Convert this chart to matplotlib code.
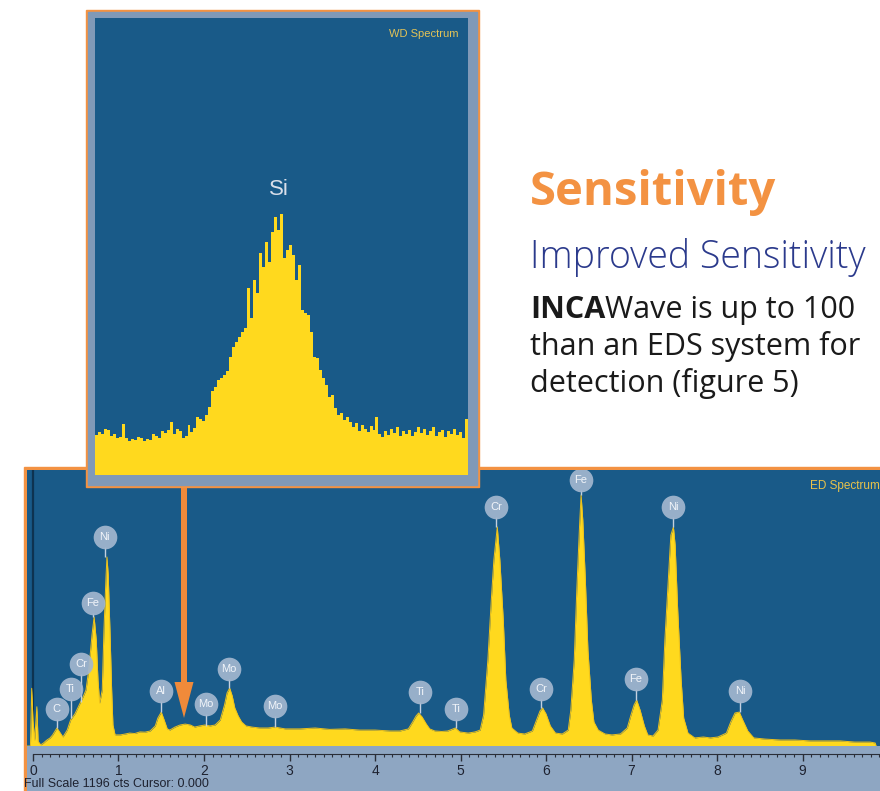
import numpy as np
import matplotlib.pyplot as plt
from matplotlib.patches import Rectangle, FancyArrow
from matplotlib.transforms import Affine2D
from matplotlib.ticker import MultipleLocator

# ---- data ----
# ED spectrum outline: energy (keV) and counts (full scale 1196 cts)
ed_kev = [-0.07, -0.03, -0.015, 0.0, 0.02, 0.045, 0.06, 0.09, 0.12, 0.16, 0.2, 0.23, 0.28, 0.32, 0.35,
          0.40, 0.44, 0.49, 0.54, 0.585, 0.62, 0.655, 0.69, 0.715, 0.74, 0.76, 0.78, 0.81, 0.83, 0.855,
          0.865, 0.88, 0.90, 0.92, 0.935, 0.96, 1.02, 1.08, 1.13, 1.19, 1.25, 1.31, 1.37, 1.43, 1.46,
          1.50, 1.53, 1.57, 1.60, 1.66, 1.72, 1.78, 1.84, 1.89, 1.95, 2.01, 2.07, 2.13, 2.19, 2.24,
          2.27, 2.30, 2.33, 2.36, 2.40, 2.44, 2.49, 2.56, 2.65, 2.75, 2.83, 2.95, 3.12, 3.30, 3.47,
          3.65, 3.82, 4.0, 4.18, 4.29, 4.39, 4.44, 4.48, 4.51, 4.55, 4.60, 4.64, 4.70, 4.78, 4.85,
          4.94, 4.99, 5.09, 5.17, 5.23, 5.27, 5.32, 5.36, 5.39, 5.43, 5.46, 5.50, 5.53, 5.57, 5.60,
          5.67, 5.75, 5.84, 5.88, 5.93, 5.96, 6.0, 6.05, 6.11, 6.19, 6.26, 6.29, 6.33, 6.36, 6.39,
          6.41, 6.43, 6.46, 6.49, 6.53, 6.56, 6.61, 6.69, 6.77, 6.87, 6.95, 6.99, 7.03, 7.06, 7.10,
          7.15, 7.19, 7.25, 7.31, 7.36, 7.39, 7.43, 7.46, 7.49, 7.51, 7.54, 7.58, 7.61, 7.66, 7.74,
          7.84, 7.92, 8.01, 8.11, 8.16, 8.21, 8.26, 8.30, 8.36, 8.43, 8.56, 8.74, 8.91, 9.09, 9.26,
          9.44, 9.61, 9.79, 9.85, 9.86]
ed_cts = [0, 0, 250, 110, 25, 170, 20, 5, 12, 25, 35, 48, 78, 56, 39,
          69, 113, 139, 178, 212, 243, 338, 481, 559, 459, 286, 186, 243, 503, 741,
          819, 741, 503, 243, 91, 48, 48, 52, 56, 54, 61, 60, 65, 87, 121,
          147, 117, 74, 69, 82, 91, 95, 91, 82, 87, 91, 87, 91, 113, 178,
          230, 251, 217, 165, 130, 104, 87, 82, 78, 78, 82, 74, 74, 78, 72,
          74, 69, 69, 65, 65, 74, 104, 130, 143, 126, 95, 74, 65, 63, 65,
          78, 61, 56, 61, 69, 134, 373, 632, 806, 949, 806, 546, 286, 134, 78,
          56, 52, 65, 104, 152, 165, 139, 87, 56, 52, 69, 156, 373, 676, 936,
          1088, 979, 719, 416, 199, 104, 69, 52, 48, 52, 78, 130, 178, 199, 156,
          87, 48, 43, 69, 199, 459, 719, 914, 949, 871, 589, 286, 121, 56, 35,
          39, 35, 39, 56, 104, 143, 147, 113, 65, 35, 30, 26, 26, 22, 22,
          22, 17, 17, 13, 0]

# peak labels
lbl_el = ['C', 'Ti', 'Cr', 'Fe', 'Ni', 'Al', 'Mo', 'Mo', 'Mo', 'Ti', 'Ti',
          'Cr', 'Cr', 'Fe', 'Fe', 'Ni', 'Ni']
lbl_kev = [0.28, 0.44, 0.56, 0.70, 0.84, 1.50, 2.02, 2.29, 2.83, 4.53, 4.95,
           5.42, 5.94, 6.41, 7.05, 7.49, 8.27]
lbl_peak = [78, 121, 190, 559, 819, 147, 87, 251, 82, 143, 78,
            949, 165, 1088, 199, 949, 147]
lbl_y = [160, 247, 355, 620, 905, 238, 182, 334, 173, 234, 160,
         1035, 247, 1152, 290, 1035, 238]

# WD spectrum, counts per channel (Si peak)
wd_counts = [40, 43, 41, 46, 45, 39, 41, 37, 38, 51,
             37, 34, 36, 35, 38, 37, 34, 36, 35, 41,
             39, 37, 44, 42, 45, 53, 41, 46, 44, 37,
             39, 50, 43, 47, 58, 56, 54, 60, 68, 84,
             88, 95, 97, 100, 104, 118, 128, 133, 138, 143,
             147, 187, 157, 195, 182, 222, 208, 233, 213, 243,
             258, 245, 261, 217, 225, 230, 220, 195, 210, 165,
             162, 160, 143, 118, 117, 105, 97, 90, 78, 80,
             67, 60, 62, 55, 58, 53, 48, 52, 44, 50,
             46, 43, 49, 45, 58, 41, 38, 44, 40, 46,
             42, 48, 39, 44, 41, 45, 39, 43, 48, 42,
             46, 40, 44, 48, 39, 43, 45, 38, 44, 41,
             46, 40, 43, 37, 56]

# ---- colours ----
orange = '#F39242'
blue_bg = '#195A88'
yellow = '#FFD91E'
frame_gray = '#8099B7'
strip_gray = '#8EA6C2'

W, H = 880, 791
fig = plt.figure(figsize=(8.8, 7.91), dpi=100)
plt.rcParams['font.family'] = ['Liberation Sans', 'DejaVu Sans']

# pixel coordinates, y pointing down
px = Affine2D().scale(1 / W, -1 / H).translate(0, 1) + fig.transFigure


def rect(x0, y0, x1, y1):
    return [x0 / W, 1 - y1 / H, (x1 - x0) / W, (y1 - y0) / H]


# ---- ED spectrum panel ----
fig.add_artist(Rectangle((24, 467), 880, 340, transform=px, color=orange, zorder=0.5))

ax = fig.add_axes(rect(27, 470, 880, 746))
ax.set_zorder(1)
ax.set_facecolor(blue_bg)
ax.set_xlim(-0.07, 9.906)
ax.set_ylim(0, 1196)
ax.set_xticks([])
ax.set_yticks([])
for s in ax.spines.values():
    s.set_visible(False)

ax.axvline(0, color='#0E3350', lw=1.6, zorder=1)
ax.fill_between(ed_kev, ed_cts, color=yellow, lw=0, zorder=2)
ax.plot(ed_kev, ed_cts, color='#EFC21A', lw=0.7, zorder=2)

ax.vlines(lbl_kev, lbl_peak, np.array(lbl_y) - 42, color='#C3D0E0', lw=1, zorder=3)
ax.scatter(lbl_kev, lbl_y, s=290, color='#A3B7CF', alpha=0.92, lw=0, zorder=4)
for el, k, y in zip(lbl_el, lbl_kev, lbl_y):
    ax.text(k, y, el, ha='center', va='center', fontsize=8, color='#F2F5FA', zorder=5)

ax.text(0.918, 0.965, 'ED Spectrum', transform=ax.transAxes, ha='left', va='top',
        fontsize=8.5, color='#E8C24A')

# bottom strip with the energy scale
strip = fig.add_axes(rect(27, 746, 880, 791))
strip.set_zorder(1)
strip.set_facecolor(strip_gray)
strip.set_xticks([])
strip.set_yticks([])
for s in strip.spines.values():
    s.set_visible(False)

sc = fig.add_axes(rect(27, 753, 880, 754))
sc.set_zorder(1.2)
sc.patch.set_alpha(0)
sc.set_xlim(-0.07, 9.906)
sc.set_yticks([])
for name in ['top', 'left', 'right']:
    sc.spines[name].set_visible(False)
sc.spines['bottom'].set_color('#2A2E38')
sc.spines['bottom'].set_bounds(0, 9.906)
sc.xaxis.set_major_locator(MultipleLocator(1))
sc.xaxis.set_minor_locator(MultipleLocator(0.1))
sc.tick_params(axis='x', which='major', direction='out', length=5, width=1,
               color='#2A2E38', labelsize=10, labelcolor='#1E2230', pad=2)
sc.tick_params(axis='x', which='minor', direction='out', length=2.5, width=0.8, color='#2A2E38')

fig.text(24, 778, 'Full Scale 1196 cts Cursor: 0.000', transform=px, ha='left', va='top',
         fontsize=9, color='#1E2230', zorder=1.3)

# ---- arrow from the WD inset down to the Si position ----
fig.add_artist(FancyArrow(184, 487, 0, 231, width=6, head_width=19, head_length=36,
                          length_includes_head=True, transform=px, color='#F08A3A',
                          lw=0, zorder=1.5))

# ---- WD spectrum inset ----
fig.add_artist(Rectangle((86, 10), 393, 477, transform=px, color=orange, zorder=2))
fig.add_artist(Rectangle((88, 12), 389, 473, transform=px, color=frame_gray, zorder=2.1))

wd = fig.add_axes(rect(95, 18, 468, 475))
wd.set_zorder(3)
wd.set_facecolor(blue_bg)
wd.stairs(wd_counts, np.arange(len(wd_counts) + 1), fill=True, color=yellow)
wd.set_xlim(0, len(wd_counts))
wd.set_ylim(0, 457)
wd.set_xticks([])
wd.set_yticks([])
for s in wd.spines.values():
    s.set_visible(False)
wd.text(0.975, 0.975, 'WD Spectrum', transform=wd.transAxes, ha='right', va='top',
        fontsize=8, color='#E2C357')
wd.text(0.493, 0.625, 'Si', transform=wd.transAxes, ha='center', va='center',
        fontsize=16, color='#D9DFEA')

# ---- text block ----
head_font = ['Open Sans', 'DejaVu Sans']
fig.text(530, 205, 'Sensitivity', transform=px, ha='left', va='baseline',
         fontsize=34, fontweight='bold', color=orange, family=head_font)
fig.text(530, 268, 'Improved Sensitivity', transform=px, ha='left', va='baseline',
         fontsize=27, fontweight='light', color='#2B3A8C', family=head_font)

t1 = fig.text(530, 318, 'INCA', transform=px, ha='left', va='baseline',
              fontsize=22, fontweight='bold', color='#1A1A1A', family=head_font)
plt.annotate('Wave is up to 100', xy=(1, 0), xycoords=t1, ha='left', va='bottom',
             fontsize=22, color='#1A1A1A', family=head_font, annotation_clip=False)
fig.text(530, 355, 'than an EDS system for', transform=px, ha='left', va='baseline',
         fontsize=22, color='#1A1A1A', family=head_font)
fig.text(530, 392, 'detection (figure 5)', transform=px, ha='left', va='baseline',
         fontsize=22, color='#1A1A1A', family=head_font)

fig.savefig('out.png', dpi=100)
